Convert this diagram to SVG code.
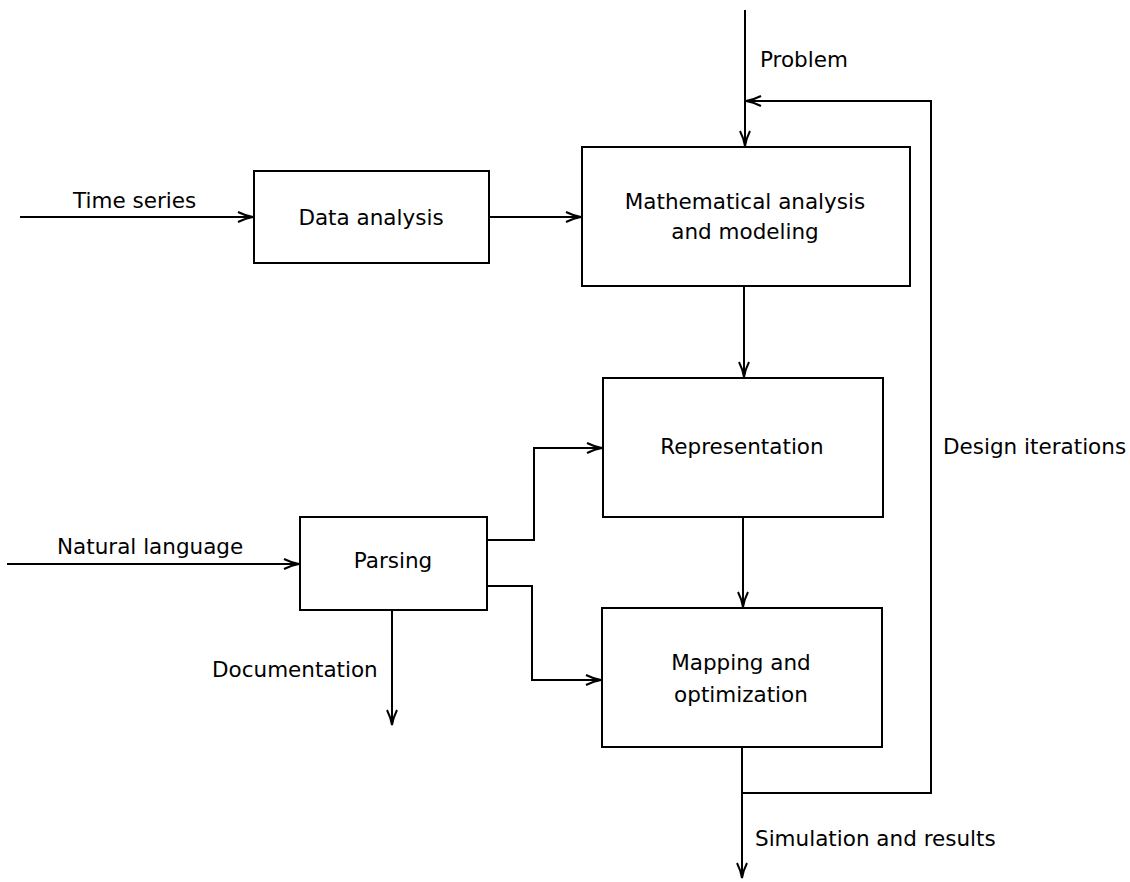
<svg xmlns="http://www.w3.org/2000/svg" width="1130" height="882" viewBox="0 0 1130 882">
<style>
.box{fill:#fff;stroke:#000;stroke-width:2}
.ln{fill:none;stroke:#000;stroke-width:2}
text{font-family:"DejaVu Sans","Liberation Sans",sans-serif;font-size:21.5px;fill:#000}
.c{text-anchor:middle}
</style>
<defs>
<marker id="a" markerWidth="18" markerHeight="12" refX="16" refY="6" orient="auto" markerUnits="userSpaceOnUse">
<path d="M1,1 Q9,5 16,6 Q9,7 1,11" fill="none" stroke="#000" stroke-width="2"/>
</marker>
</defs>
<rect width="1130" height="882" fill="#fff"/>
<g id="connectors">
<path class="ln" d="M745,10 V146" marker-end="url(#a)"/>
<path class="ln" d="M20,217 H253" marker-end="url(#a)"/>
<path class="ln" d="M489,217 H581" marker-end="url(#a)"/>
<path class="ln" d="M744,286 V377" marker-end="url(#a)"/>
<path class="ln" d="M743,517 V607" marker-end="url(#a)"/>
<path class="ln" d="M7,564 H299" marker-end="url(#a)"/>
<path class="ln" d="M487,540 H534 V448 H602" marker-end="url(#a)"/>
<path class="ln" d="M487,586 H532 V680 H601" marker-end="url(#a)"/>
<path class="ln" d="M392,610 V725" marker-end="url(#a)"/>
<path class="ln" d="M742,747 V878" marker-end="url(#a)"/>
<path class="ln" d="M742,793 H931 V101 H746" marker-end="url(#a)"/>
</g>
<g id="data-analysis">
<rect class="box" x="254" y="171" width="235" height="92"/>
<text class="c" x="371" y="225">Data analysis</text>
</g>
<g id="math">
<rect class="box" x="582" y="147" width="328" height="139"/>
<text class="c" x="745" y="209">Mathematical analysis</text>
<text class="c" x="745" y="239">and modeling</text>
</g>
<g id="representation">
<rect class="box" x="603" y="378" width="280" height="139"/>
<text class="c" x="742" y="454">Representation</text>
</g>
<g id="mapping">
<rect class="box" x="602" y="608" width="280" height="139"/>
<text class="c" x="741" y="670">Mapping and</text>
<text class="c" x="741" y="702">optimization</text>
</g>
<g id="parsing">
<rect class="box" x="300" y="517" width="187" height="93"/>
<text class="c" x="393" y="568">Parsing</text>
</g>
<g id="labels">
<text x="760" y="67">Problem</text>
<text x="73" y="208">Time series</text>
<text x="57" y="554">Natural language</text>
<text x="212" y="677">Documentation</text>
<text x="943" y="454">Design iterations</text>
<text x="755" y="846">Simulation and results</text>
</g>
</svg>
